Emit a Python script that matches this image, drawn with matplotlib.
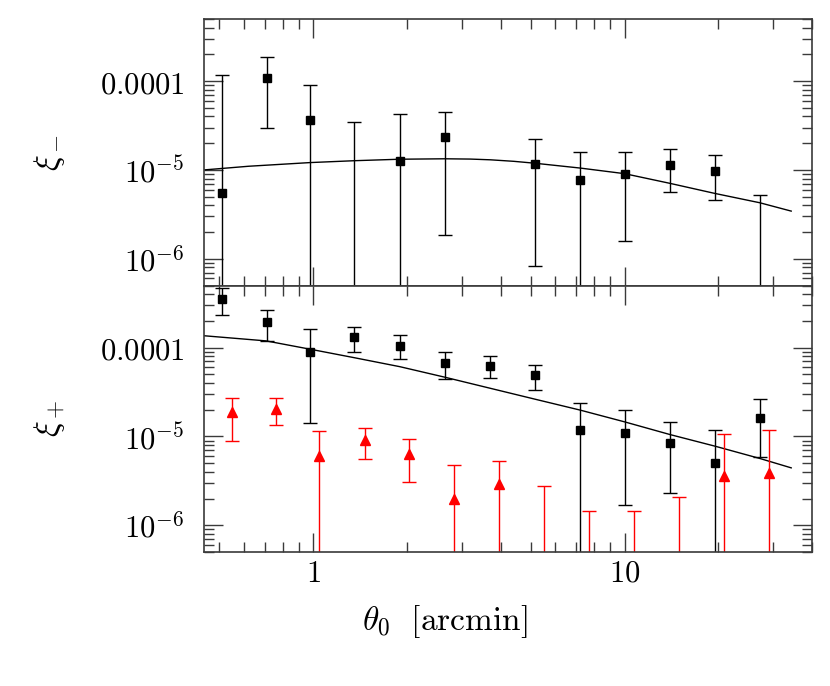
# -*- coding: utf-8 -*-
import numpy as np
import matplotlib
matplotlib.use('Agg')
import matplotlib.pyplot as plt
import matplotlib.ticker as mticker

plt.rcParams['mathtext.fontset'] = 'cm'
plt.rcParams['font.family'] = 'serif'
plt.rcParams['font.size'] = 20

# xi_minus (top panel), black squares; lo = 0 means the bar runs off the bottom
xMinus = [0.508, 0.708, 0.976, 1.354, 1.898, 2.648, 3.69, 5.15, 7.2, 10.02, 14.0, 19.5, 27.2]
yMinus = [5.44e-6, 1.07e-4, 3.65e-5, 3.0e-7, 1.27e-5, 2.36e-5, 3.0e-7, 1.17e-5, 7.7e-6, 8.93e-6, 1.14e-5, 9.82e-6, 3.0e-7]
hiMinus = [1.17e-4, 1.85e-4, 9.08e-5, 3.49e-5, 4.23e-5, 4.54e-5, 3.0e-7, 2.24e-5, 1.61e-5, 1.61e-5, 1.71e-5, 1.49e-5, 5.16e-6]
loMinus = [0, 2.96e-5, 0, 0, 0, 1.87e-6, 3.0e-7, 8.2e-7, 0, 1.6e-6, 5.68e-6, 4.57e-6, 0]

# xi_plus (bottom panel), black squares
xPlus = [0.508, 0.708, 0.976, 1.354, 1.898, 2.648, 3.69, 5.15, 7.2, 10.02, 14.0, 19.5, 27.2]
yPlus = [3.55e-4, 1.92e-4, 8.87e-5, 1.31e-4, 1.05e-4, 6.67e-5, 6.27e-5, 4.92e-5, 1.17e-5, 1.08e-5, 8.39e-6, 5.0e-6, 1.61e-5]
hiPlus = [4.68e-4, 2.64e-4, 1.63e-4, 1.72e-4, 1.37e-4, 8.87e-5, 8.0e-5, 6.43e-5, 2.36e-5, 1.98e-5, 1.45e-5, 1.17e-5, 2.64e-5]
loPlus = [2.32e-4, 1.19e-4, 1.40e-5, 9.0e-5, 7.4e-5, 4.47e-5, 4.55e-5, 3.36e-5, 0, 1.68e-6, 2.31e-6, 0, 5.83e-6]

# xi_cross (bottom panel), red triangles
xCross = [0.547, 0.759, 1.045, 1.462, 2.034, 2.84, 3.96, 5.52, 7.7, 10.7, 15.0, 20.9, 29.1]
yCross = [1.87e-5, 2.03e-5, 6.04e-6, 9.08e-6, 6.37e-6, 1.96e-6, 2.9e-6, 3.0e-7, 3.0e-7, 3.0e-7, 3.0e-7, 3.56e-6, 3.88e-6]
hiCross = [2.73e-5, 2.69e-5, 1.15e-5, 1.25e-5, 9.4e-6, 4.71e-6, 5.36e-6, 2.77e-6, 1.44e-6, 1.46e-6, 2.08e-6, 1.07e-5, 1.17e-5]
loCross = [8.86e-6, 1.33e-5, 0, 5.54e-6, 3.08e-6, 0, 0, 0, 0, 0, 0, 0, 0]

# model curves
xModelMinus = [0.446, 0.62, 0.977, 1.355, 1.898, 2.65, 3.2, 3.71, 4.41, 5.15, 7.2, 10.0, 14.0, 19.5, 27.2, 34.3]
yModelMinus = [1.0e-5, 1.1e-5, 1.21e-5, 1.27e-5, 1.32e-5, 1.335e-5, 1.325e-5, 1.30e-5, 1.25e-5, 1.19e-5, 1.05e-5, 9.08e-6, 7.06e-6, 5.44e-6, 4.27e-6, 3.44e-6]
xModelPlus = [0.446, 0.706, 0.977, 1.355, 1.898, 2.65, 3.71, 5.15, 7.2, 10.0, 14.0, 19.5, 27.2, 34.3]
yModelPlus = [1.36e-4, 1.19e-4, 9.6e-5, 7.7e-5, 6.1e-5, 4.64e-5, 3.48e-5, 2.63e-5, 1.98e-5, 1.46e-5, 1.05e-5, 7.78e-6, 5.65e-6, 4.43e-6]

yTicks = [1e-6, 1e-5, 1e-4]
yTickLabels = [r'$10^{-6}$', r'$10^{-5}$', r'$0.0001$']
xTicks = [1, 10]
xTickLabels = [r'$1$', r'$10$']

SPINE = '#3a3a3a'


def drawPoints(ax, x, y, lo, hi, color, marker, size):
    y = np.array(y)
    lo = np.maximum(np.array(lo), 1e-9)
    hi = np.array(hi)
    yerr = [np.maximum(y - lo, 0), np.maximum(hi - y, 0)]
    ax.errorbar(x, y, yerr=yerr, fmt=marker, color=color, ms=size,
                mec=color, mfc=color, elinewidth=1.0, capsize=5, capthick=1.0)


def styleAxis(ax):
    ax.set_xscale('log')
    ax.set_yscale('log')
    ax.set_xlim(0.446, 40)
    ax.set_ylim(5e-7, 5e-4)
    ax.yaxis.set_major_locator(mticker.FixedLocator(yTicks))
    ax.yaxis.set_major_formatter(mticker.FixedFormatter(yTickLabels))
    ax.yaxis.set_minor_locator(mticker.LogLocator(base=10, subs=np.arange(2, 10)))
    ax.yaxis.set_minor_formatter(mticker.NullFormatter())
    ax.xaxis.set_major_locator(mticker.FixedLocator(xTicks))
    ax.xaxis.set_major_formatter(mticker.FixedFormatter(xTickLabels))
    ax.xaxis.set_minor_locator(mticker.LogLocator(base=10, subs=np.arange(2, 10)))
    ax.xaxis.set_minor_formatter(mticker.NullFormatter())
    ax.tick_params(which='both', direction='in', top=True, right=True, color=SPINE, width=1.0)
    ax.tick_params(which='major', length=14, labelsize=22)
    ax.tick_params(which='minor', length=7.5)
    ax.tick_params(axis='y', which='major', pad=14)
    ax.tick_params(axis='x', which='major', pad=4)
    for sp in ax.spines.values():
        sp.set_color(SPINE)
        sp.set_linewidth(1.2)


fig = plt.figure(figsize=(8.3, 6.86), dpi=100)
axTop = fig.add_axes([0.2458, 0.5838, 0.7325, 0.3885])
axBot = fig.add_axes([0.2458, 0.1953, 0.7325, 0.3885])

# top: xi_minus
styleAxis(axTop)
axTop.plot(xModelMinus, yModelMinus, color='black', lw=1.0)
drawPoints(axTop, xMinus, yMinus, loMinus, hiMinus, 'black', 's', 5.8)
axTop.tick_params(axis='x', labelbottom=False)
axTop.set_ylabel(r'$\xi_-$', fontsize=24)
axTop.yaxis.set_label_coords(-0.225, 0.5)

# bottom: xi_plus and xi_cross
styleAxis(axBot)
axBot.plot(xModelPlus, yModelPlus, color='black', lw=1.0)
drawPoints(axBot, xPlus, yPlus, loPlus, hiPlus, 'black', 's', 5.8)
drawPoints(axBot, xCross, yCross, loCross, hiCross, '#ff0000', '^', 6.5)
axBot.set_ylabel(r'$\xi_+$', fontsize=24)
axBot.yaxis.set_label_coords(-0.225, 0.5)
axBot.set_xlabel(r'$\theta_0\ \ \mathrm{[arcmin]}$', fontsize=24)
axBot.xaxis.set_label_coords(0.396, -0.19)

fig.savefig('out.png', dpi=100)
